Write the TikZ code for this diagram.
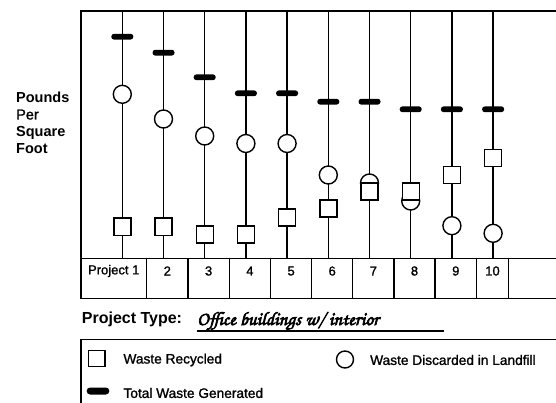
\documentclass[tikz,border=0pt]{standalone}
\usepackage{fontspec}
\setmainfont{Liberation Sans}
\newfontfamily\medfont{Liberation Sans}[FakeBold=1.3]
\newfontfamily\handfont{texgyrechorus-mediumitalic.otf}[FakeBold=3.5]
\begin{document}
\begin{tikzpicture}[x=1pt,y=-1pt,
  stem/.style={line width=1.5pt},
  frame/.style={line width=1.9pt},
  recyc/.style={draw, line width=1.4pt, fill=white, minimum size=17pt, inner sep=0pt},
  landf/.style={draw, circle, line width=1.4pt, fill=white, minimum size=18pt, inner sep=0pt},
  totbar/.style={fill=black, rounded corners=2.7pt, minimum width=22pt, minimum height=5.8pt, inner sep=0pt},
  cell/.style={font=\medfont\fontsize{13}{15}\selectfont, inner sep=0pt},
  legtxt/.style={font=\medfont\fontsize{13.7}{16}\selectfont, anchor=west, inner sep=0pt}]
\useasboundingbox (0,0) rectangle (556,403);
\def \top {11}
\def \bot {258.5}
% axis label
\node[anchor=base west, inner sep=0pt, font=\fontsize{14.5}{17}\selectfont\bfseries] (pounds) at (16,102.5) {Pounds};
\node[anchor=base west, inner sep=0pt, font=\medfont\fontsize{14.5}{17}\selectfont] (per) at (16,119.5) {Per};
\node[anchor=base west, inner sep=0pt, font=\fontsize{14.5}{17}\selectfont\bfseries] (square) at (16,136.5) {Square};
\node[anchor=base west, inner sep=0pt, font=\fontsize{14.5}{17}\selectfont\bfseries] (foot) at (16,153.5) {Foot};
% frame and table
\draw[frame] (556,\top) -- (80.7,\top) -- (80.7,298.5) -- (556,298.5);
\draw[line width=1.6pt] (80.7,\bot) -- (556,\bot);
\foreach \d in {146.7,188,229.3,270.4,311.7,352.7,394,435,476.7,508.3}
  \draw[line width=1.5pt] (\d,\bot) -- (\d,298.5);
\node[cell] (c1) at (113.7,271) {Project 1};
\foreach \n/\cx in {2/167.3,3/208.6,4/249.9,5/291.1,6/332.2,7/373.4,8/414.5,9/455.8,10/492.5}
  \node[cell] (c\n) at (\cx,271) {\n};
% projects: x / total / landfill / recycled
\foreach \i/\x/\tw/\lf/\rc in {1/122.3/36.7/94.3/226.7, 2/163.5/52.7/119/226.7,
    3/204.7/77.3/136/234.5, 4/245.9/93.3/143.5/234.5, 5/287.1/93.3/143.5/217.5,
    6/328.3/101.7/175/208.7, 7/369.5/101.7/183/191.5, 8/410.7/109.3/201/191.5,
    9/451.9/109.3/225.7/175, 10/493.1/109.3/233.3/158.3}
{
  \coordinate (top\i) at (\x,\top);
  \coordinate (base\i) at (\x,\bot);
  \draw[stem] (top\i) -- (base\i);
  \node[landf] (lf\i) at (\x,\lf) {};
  \node[recyc] (rc\i) at (\x,\rc) {};
  \node[totbar] (tw\i) at (\x,\tw) {};
}
% project type
\node[anchor=base west, inner sep=0pt, font=\fontsize{16}{18}\selectfont\bfseries] (ptype) at (81.7,323.5) {Project Type:};
\node[anchor=base west, inner sep=0pt, font=\handfont\fontsize{19}{21}\selectfont] (pname) at (197,325) {Office buildings w/ interior};
\coordinate (ul1) at (196.7,331);
\coordinate (ul2) at (444,331);
\draw[line width=1.5pt] (ul1) -- (ul2);
% legend
\draw[frame] (556,339.5) -- (80.7,339.5) -- (80.7,403);
\node[recyc, minimum size=16.5pt] (legrc) at (96.7,358.5) {};
\node[legtxt] (legrct) at (123.3,360) {Waste Recycled};
\node[landf, minimum size=17pt] (leglf) at (345,359.5) {};
\node[legtxt] (leglft) at (370,360) {Waste Discarded in Landfill};
\node[totbar, minimum width=22.6pt, minimum height=7pt, rounded corners=3.4pt] (legtw) at (98,391) {};
\node[legtxt] (legtwt) at (123.3,393) {Total Waste Generated};
\end{tikzpicture}
\end{document}
